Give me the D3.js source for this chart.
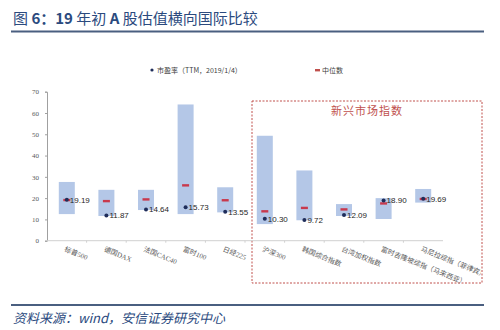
<!DOCTYPE html>
<html>
<head>
<meta charset="utf-8">
<script src="https://cdn.jsdelivr.net/npm/d3@7"></script>
<style>
  body { margin: 0; background: #fff; }
  svg { display: block; }
</style>
</head>
<body>
<svg width="500" height="330"></svg>
<script>
let categories = ['标普500', '德国DAX', '法国CAC40', '富时100', '日经225', '沪深300', '韩国综合指数', '台湾加权指数', '富时吉隆坡综指（马来西亚）', '马尼拉综指（菲律宾）']
let maxVals = [27.6, 23.9, 23.9, 64.0, 25.1, 49.3, 33.0, 17.2, 20.0, 24.3]
let minVals = [12.5, 11.6, 14.4, 12.5, 13.3, 7.8, 9.6, 11.6, 10.2, 17.9]
let medians = [19.1, 18.6, 19.4, 26.0, 19.0, 13.8, 15.4, 14.7, 17.5, 19.6]
let current = [19.19, 11.87, 14.64, 15.73, 13.55, 10.30, 9.72, 12.09, 18.90, 19.69]
let yTicks = [0, 10, 20, 30, 40, 50, 60, 70]

let rows = categories.map((c, i) => ({
    name: c, max: maxVals[i], min: minVals[i], med: medians[i], cur: current[i]
}))

let svg = d3.select('svg')
let titleBlue = '#2b4a7e'
let cjk = '"Noto Sans CJK SC", sans-serif'
let serif = '"Liberation Serif", "Noto Sans CJK SC", serif'

// title
let title = svg.append('text')
    .attr('x', 13).attr('y', 24)
    .attr('fill', titleBlue)
    .style('font-family', cjk)
    .style('font-size', '15px')
let parts = [['图 ', 400], ['6：19 ', 700], ['年初 ', 400], ['A ', 700], ['股估值横向国际比较', 400]]
parts.forEach(p => title.append('tspan').text(p[0]).style('font-weight', p[1]))

svg.append('line').attr('x1', 11).attr('x2', 484).attr('y1', 31.5).attr('y2', 31.5)
    .attr('stroke', '#4a5f80').attr('stroke-width', 2)
svg.append('line').attr('x1', 11).attr('x2', 484).attr('y1', 305).attr('y2', 305)
    .attr('stroke', '#4a5f80').attr('stroke-width', 2)

svg.append('text')
    .attr('x', 13).attr('y', 323)
    .attr('fill', titleBlue)
    .style('font-family', cjk)
    .style('font-size', '13px')
    .style('font-style', 'italic')
    .text('资料来源：wind，安信证券研究中心')

// scales
let x = d3.scaleBand().domain(categories).range([47, 443])
let y = d3.scaleLinear().domain([0, 70]).range([240.7, 91.7])
let barW = 16

// emerging markets box
svg.append('rect')
    .attr('x', 252).attr('y', 101)
    .attr('width', 230).attr('height', 182)
    .attr('fill', 'none')
    .attr('stroke', '#c0504d')
    .attr('stroke-width', 1)
    .attr('stroke-dasharray', '2,1.5')
svg.append('text')
    .attr('x', 367).attr('y', 115)
    .attr('text-anchor', 'middle')
    .attr('fill', '#c0504d')
    .style('font-family', cjk)
    .style('font-size', '11px')
    .style('letter-spacing', '1px')
    .text('新兴市场指数')

// legend
let lg = svg.append('g').style('font-family', cjk).style('font-size', '7px').attr('fill', '#404040')
lg.append('circle').attr('cx', 152).attr('cy', 70).attr('r', 1.6).attr('fill', '#1f2d5a')
lg.append('text').attr('x', 157).attr('y', 72.5).text('市盈率（TTM，2019/1/4）')
lg.append('rect').attr('x', 315).attr('y', 69).attr('width', 5).attr('height', 2.4).attr('fill', '#c0504d')
lg.append('text').attr('x', 322).attr('y', 72.5).text('中位数')

// axes
let yAxis = svg.append('g')
    .attr('transform', 'translate(47,0)')
    .call(d3.axisLeft(y).tickValues(yTicks).tickSize(2).tickPadding(6))
yAxis.select('.domain').attr('stroke', '#a0a0a0')
yAxis.selectAll('.tick line').attr('stroke', '#a0a0a0')
yAxis.selectAll('text').attr('fill', '#595959').style('font-family', serif).style('font-size', '7px')

let xAxis = svg.append('g').attr('transform', 'translate(0,240.7)')
xAxis.append('line').attr('x1', 47).attr('x2', 443).attr('stroke', '#d0d0d0')
xAxis.selectAll('line.tk')
    .data(categories.slice(1))
    .enter()
    .append('line')
    .attr('class', 'tk')
    .attr('x1', d => x(d)).attr('x2', d => x(d))
    .attr('y1', 0).attr('y2', 2)
    .attr('stroke', '#d0d0d0')

svg.append('clipPath').attr('id', 'clip')
    .append('rect').attr('x', 0).attr('y', 0).attr('width', 481).attr('height', 330)

svg.append('g').attr('clip-path', 'url(#clip)')
    .selectAll('text')
    .data(categories)
    .enter()
    .append('text')
    .text(d => d)
    .attr('transform', d => 'translate(' + (x(d) + x.bandwidth() / 2 - 3) + ',251) rotate(22)')
    .attr('fill', '#595959')
    .style('font-family', serif)
    .style('font-size', '7px')

// range bars
let g = svg.append('g')
g.selectAll('rect.range')
    .data(rows)
    .enter()
    .append('rect')
    .attr('class', 'range')
    .attr('x', d => x(d.name) + x.bandwidth() / 2 - barW / 2)
    .attr('width', barW)
    .attr('y', d => y(d.max))
    .attr('height', d => y(d.min) - y(d.max))
    .attr('fill', '#b4c7e7')

g.selectAll('rect.med')
    .data(rows)
    .enter()
    .append('rect')
    .attr('class', 'med')
    .attr('x', d => x(d.name) + x.bandwidth() / 2 - 3.5)
    .attr('width', 7)
    .attr('y', d => y(d.med) - 1.2)
    .attr('height', 2.4)
    .attr('fill', '#c8394d')

g.selectAll('circle')
    .data(rows)
    .enter()
    .append('circle')
    .attr('cx', d => x(d.name) + x.bandwidth() / 2)
    .attr('cy', d => y(d.cur))
    .attr('r', 2)
    .attr('fill', '#1f2d5a')

g.selectAll('text.val')
    .data(rows)
    .enter()
    .append('text')
    .attr('class', 'val')
    .text(d => d.cur.toFixed(2))
    .attr('x', d => x(d.name) + x.bandwidth() / 2 + 3)
    .attr('y', d => y(d.cur) + 2.8)
    .attr('fill', '#262626')
    .style('font-family', '"Liberation Sans", Arial, sans-serif')
    .style('font-size', '8px')
</script>
</body>
</html>
